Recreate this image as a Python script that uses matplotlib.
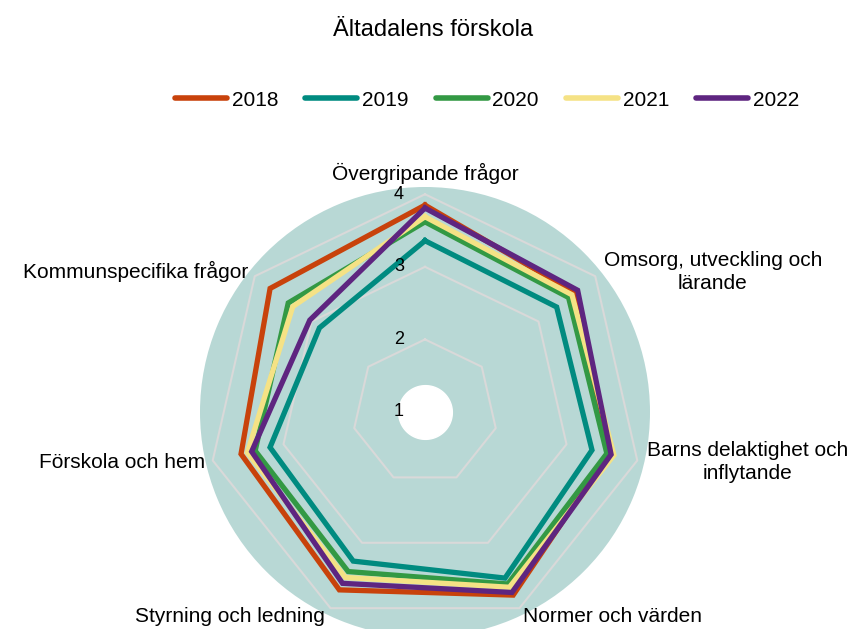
import numpy as np
import matplotlib
matplotlib.use("Agg")
import matplotlib.pyplot as plt
from matplotlib.lines import Line2D

plt.rcParams['font.family'] = ['Liberation Sans', 'DejaVu Sans']

categories = ['Övergripande frågor', 'Omsorg, utveckling och\nlärande',
              'Barns delaktighet och\ninflytande', 'Normer och värden',
              'Styrning och ledning', 'Förskola och hem', 'Kommunspecifika frågor']
years = ['2018', '2019', '2020', '2021', '2022']
v2018 = [3.85, 3.64, 3.59, 3.80, 3.72, 3.60, 3.73]
v2019 = [3.36, 3.32, 3.36, 3.54, 3.28, 3.19, 2.86]
v2020 = [3.62, 3.53, 3.57, 3.63, 3.44, 3.40, 3.41]
v2021 = [3.69, 3.59, 3.67, 3.68, 3.53, 3.51, 3.33]
v2022 = [3.81, 3.69, 3.63, 3.76, 3.62, 3.45, 3.03]
series = [v2018, v2019, v2020, v2021, v2022]
colors = ['#C8420B', '#008B80', '#339944', '#F5E285', '#5E2580']
ticks = [1, 2, 3, 4]

W, H = 854, 629
fig = plt.figure(figsize=(W / 100, H / 100), dpi=100)
cx, cy, R = 425, 412, 225
ax = fig.add_axes([(cx - R) / W, (H - cy - R) / H, 2 * R / W, 2 * R / H], projection='polar')
ax.set_theta_zero_location('N')
ax.set_theta_direction(-1)
ax.set_ylim(1, 4.1)
ax.set_facecolor('#B8D8D5')
ax.grid(False)
ax.spines['polar'].set_visible(False)
ax.set_xticks([])
ax.set_yticks([])

n = len(categories)
theta = np.arange(n) * 2 * np.pi / n
tc = np.append(theta, theta[0])

# grid heptagons
for t in ticks[1:]:
    ax.plot(tc, [t] * (n + 1), color='#D9D9D9', lw=1.5, zorder=1)
for t in ticks:
    ax.annotate(str(t), (0, t), xytext=(-26, 0), textcoords='offset pixels',
                ha='center', va='center', fontsize=13, color='black', zorder=6)

# white hole
full = np.linspace(0, 2 * np.pi, 200)
ax.fill_between(full, 1, 1.37, color='white', zorder=2)

for vals, c, y in zip(series, colors, years):
    ax.plot(tc, vals + vals[:1], color=c, lw=3.8, zorder=3, label=y,
            solid_joinstyle='miter')

# category labels
fs = 15
fig.text(425 / W, 1 - 173 / H, categories[0], ha='center', va='center', fontsize=fs)
fig.text(713 / W, 1 - 272 / H, categories[1], ha='center', va='center', fontsize=fs, linespacing=1.25)
fig.text(748 / W, 1 - 462 / H, categories[2], ha='center', va='center', fontsize=fs, linespacing=1.25)
fig.text(613 / W, 1 - 616 / H, categories[3], ha='center', va='center', fontsize=fs)
fig.text(230 / W, 1 - 616 / H, categories[4], ha='center', va='center', fontsize=fs)
fig.text(205 / W, 1 - 463 / H, categories[5], ha='right', va='center', fontsize=fs)
fig.text(248 / W, 1 - 271 / H, categories[6], ha='right', va='center', fontsize=fs)

fig.text(433 / W, 1 - 30 / H, 'Ältadalens förskola', ha='center', va='center', fontsize=17)

handles = [Line2D([], [], color=c, lw=4, solid_capstyle='round') for c in colors]
fig.legend(handles, years, loc='center', bbox_to_anchor=(487 / W, 1 - 100 / H), ncol=5,
           frameon=False, fontsize=15, handlelength=2.5, handletextpad=0.22,
           columnspacing=1.3)

fig.savefig('out.png', dpi=100)
